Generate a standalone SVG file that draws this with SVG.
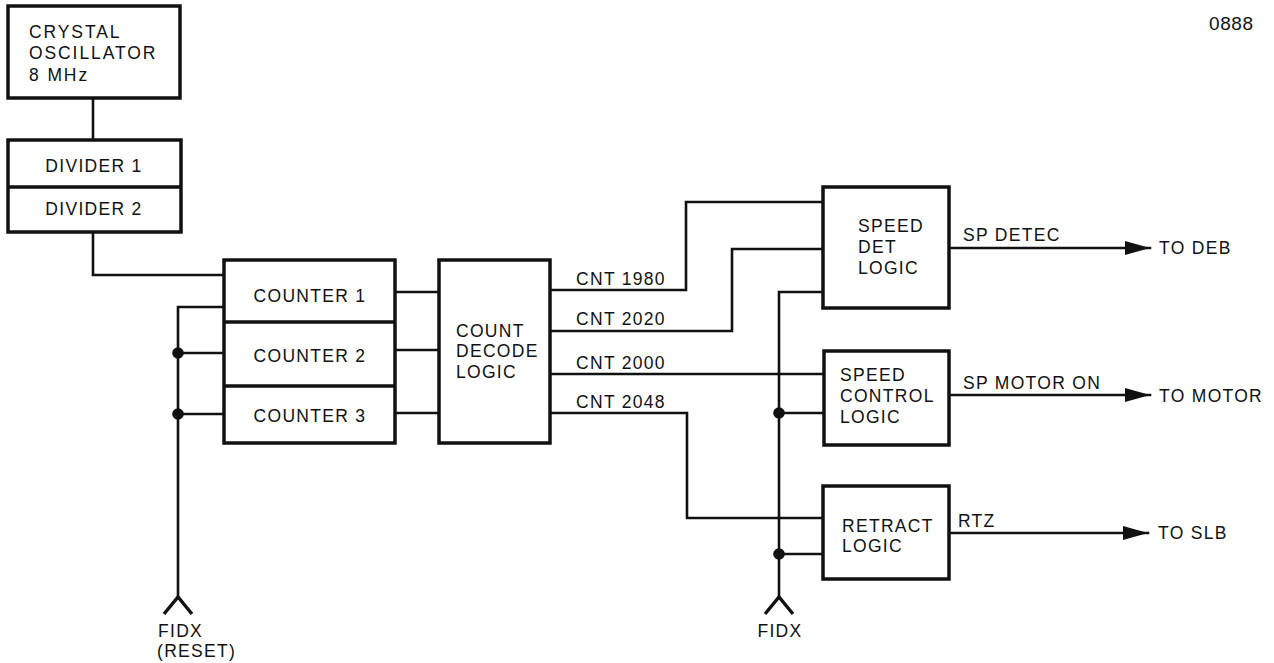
<svg xmlns="http://www.w3.org/2000/svg" width="1274" height="663" viewBox="0 0 1274 663">
<defs>
<style>
.box{fill:#fff;stroke:#111;stroke-width:3.5}
.sep{stroke:#111;stroke-width:3.5;fill:none}
.ln{fill:none;stroke:#111;stroke-width:2.6;stroke-linecap:square;stroke-linejoin:miter}
.fork{fill:none;stroke:#111;stroke-width:3.4;stroke-linecap:butt;stroke-linejoin:miter}
.dot{fill:#111}
text{font-family:"Liberation Sans",Arial,Helvetica,sans-serif;font-size:17.5px;letter-spacing:1.3px;fill:#111}
.c{text-anchor:middle}
.wide{letter-spacing:1.9px}
.ref{letter-spacing:0.6px;font-size:19px}
</style>
<marker id="arr" viewBox="0 0 25 14" refX="25" refY="7" markerWidth="25" markerHeight="14" markerUnits="userSpaceOnUse" orient="auto">
<path d="M0,0 L25,7 L0,14 Z" fill="#111"/>
</marker>
</defs>
<rect width="1274" height="663" fill="#fff"/>
<text class="ref" x="1209" y="30">0888</text>

<g id="connectors">
<path class="ln" d="M93,98 V140"/>
<path class="ln" d="M93,232 V275 H224"/>
<path class="ln" d="M224,307 H178 V597"/>
<path class="ln" d="M178,353 H224"/>
<path class="ln" d="M178,414 H224"/>
<path class="fork" d="M164,614 L178,597 L192,614"/>
<path class="ln" d="M395,292 H439"/>
<path class="ln" d="M395,350 H439"/>
<path class="ln" d="M395,413 H439"/>
<path class="ln" d="M550,290 H686 V202 H823"/>
<path class="ln" d="M550,331 H732 V249 H823"/>
<path class="ln" d="M550,374 H823"/>
<path class="ln" d="M550,413 H687 V518 H823"/>
<path class="ln" d="M823,292 H779 V597"/>
<path class="ln" d="M779,413 H824"/>
<path class="ln" d="M779,554 H823"/>
<path class="fork" d="M765,614 L779,597 L793,614"/>
<circle class="dot" cx="178" cy="353" r="5.8"/>
<circle class="dot" cx="178" cy="414" r="5.8"/>
<circle class="dot" cx="779" cy="413" r="5.8"/>
<circle class="dot" cx="779" cy="554" r="5.8"/>
<path class="ln" d="M949,248 H1150" marker-end="url(#arr)"/>
<path class="ln" d="M949,395 H1150" marker-end="url(#arr)"/>
<path class="ln" d="M949,533 H1148" marker-end="url(#arr)"/>
<text x="576" y="285">CNT 1980</text>
<text x="576" y="325">CNT 2020</text>
<text x="576" y="369">CNT 2000</text>
<text x="576" y="408">CNT 2048</text>
<text x="963" y="241">SP DETEC</text>
<text x="963" y="389">SP MOTOR ON</text>
<text x="958" y="527">RTZ</text>
<text x="1159" y="254">TO DEB</text>
<text x="1159" y="402">TO MOTOR</text>
<text x="1158" y="539">TO SLB</text>
<text x="158" y="637">FIDX</text>
<text x="157" y="657">(RESET)</text>
<text class="c" x="780" y="637">FIDX</text>
</g>

<g id="crystal">
<rect class="box" x="8" y="6" width="172" height="92"/>
<text class="wide" x="29" y="38">CRYSTAL</text>
<text class="wide" x="29" y="59">OSCILLATOR</text>
<text class="wide" x="29" y="81">8 MHz</text>
</g>

<g id="dividers">
<rect class="box" x="8" y="140" width="173" height="92"/>
<path class="sep" d="M8,187 H181"/>
<text class="c" x="94" y="172">DIVIDER 1</text>
<text class="c" x="94" y="215">DIVIDER 2</text>
</g>

<g id="counters">
<rect class="box" x="224" y="260" width="171" height="183"/>
<path class="sep" d="M224,322 H395 M224,386 H395"/>
<text class="c" x="310" y="302">COUNTER 1</text>
<text class="c" x="310" y="362">COUNTER 2</text>
<text class="c" x="310" y="422">COUNTER 3</text>
</g>

<g id="decode">
<rect class="box" x="439" y="260" width="111" height="183"/>
<text x="456" y="337">COUNT</text>
<text x="456" y="357">DECODE</text>
<text x="456" y="378">LOGIC</text>
</g>

<g id="speed-det">
<rect class="box" x="823" y="187" width="126" height="121"/>
<text x="858" y="232">SPEED</text>
<text x="858" y="253">DET</text>
<text x="858" y="274">LOGIC</text>
</g>

<g id="speed-control">
<rect class="box" x="824" y="351" width="125" height="94"/>
<text x="840" y="381">SPEED</text>
<text x="840" y="402">CONTROL</text>
<text x="840" y="423">LOGIC</text>
</g>

<g id="retract">
<rect class="box" x="823" y="486" width="126" height="93"/>
<text x="842" y="532">RETRACT</text>
<text x="842" y="552">LOGIC</text>
</g>
</svg>
